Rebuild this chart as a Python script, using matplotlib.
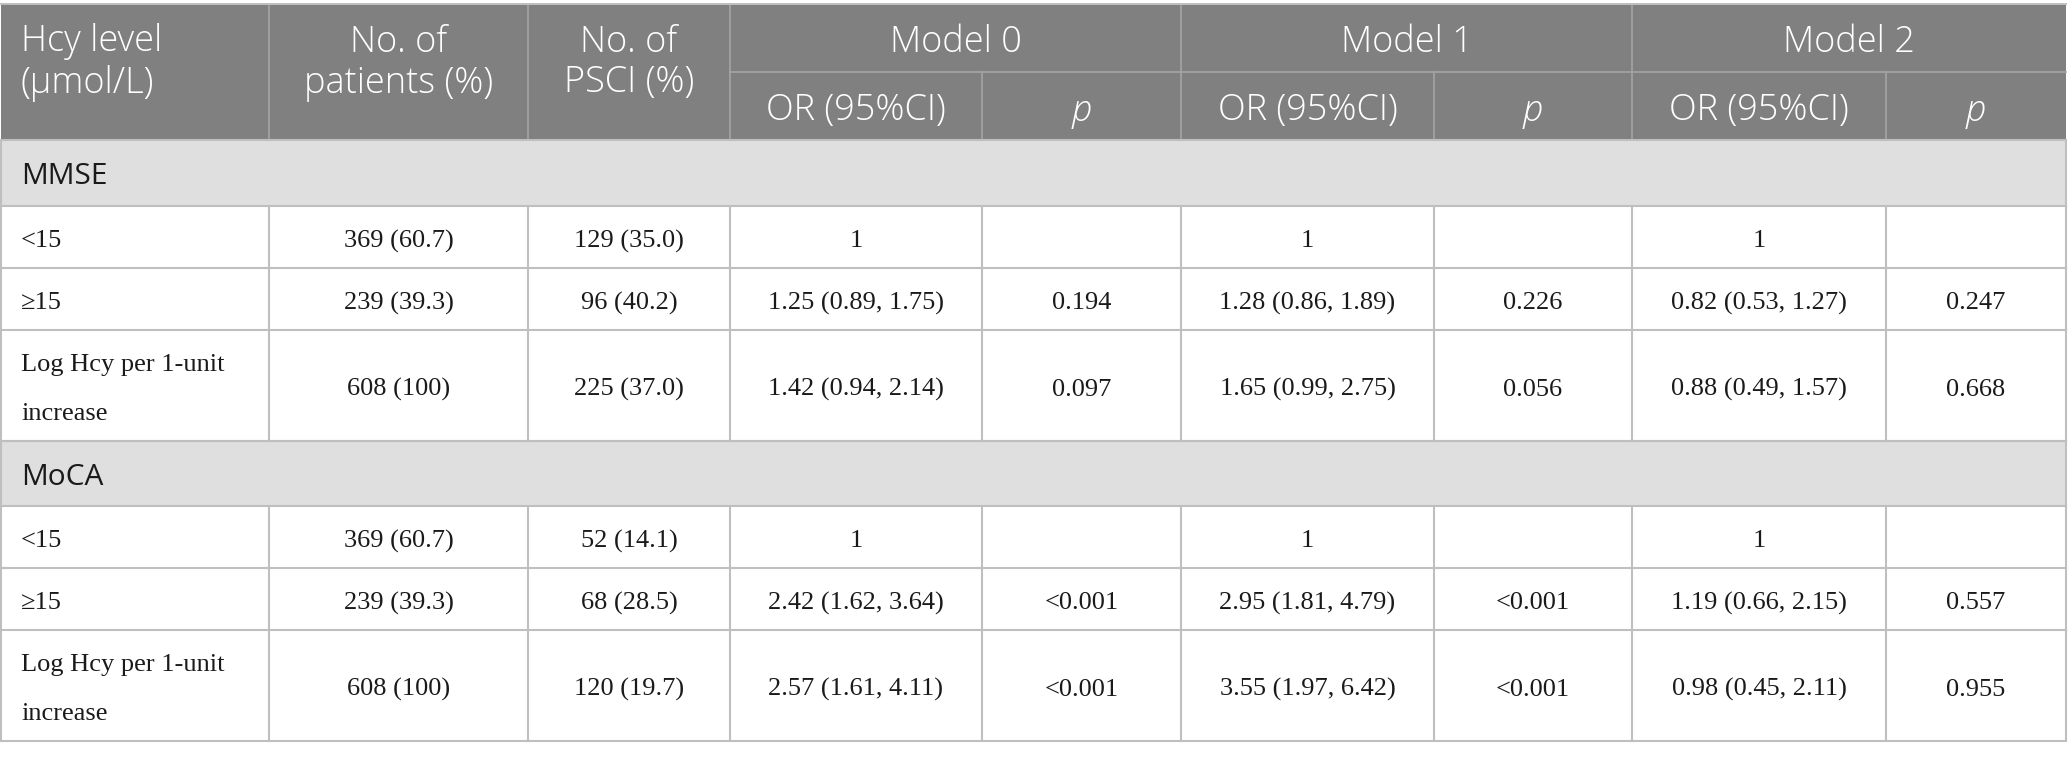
import matplotlib
matplotlib.use("Agg")
import matplotlib.pyplot as plt
from matplotlib.patches import Rectangle

# ---------------- data ----------------
head_cols = ["Hcy level\n(\u00b5mol/L)", "No. of\npatients (%)", "No. of\nPSCI (%)"]
models = ["Model 0", "Model 1", "Model 2"]
sub_heads = ["OR (95%CI)", "p"]
sections = ["MMSE", "MoCA"]
levels = ["<15", "\u226515", "Log Hcy per 1-unit\nincrease"]
patients = ["369 (60.7)", "239 (39.3)", "608 (100)"]

mmse_pscI = ["129 (35.0)", "96 (40.2)", "225 (37.0)"]
mmse_or_m0 = ["1", "1.25 (0.89, 1.75)", "1.42 (0.94, 2.14)"]
mmse_p_m0 = ["", "0.194", "0.097"]
mmse_or_m1 = ["1", "1.28 (0.86, 1.89)", "1.65 (0.99, 2.75)"]
mmse_p_m1 = ["", "0.226", "0.056"]
mmse_or_m2 = ["1", "0.82 (0.53, 1.27)", "0.88 (0.49, 1.57)"]
mmse_p_m2 = ["", "0.247", "0.668"]

moca_pscI = ["52 (14.1)", "68 (28.5)", "120 (19.7)"]
moca_or_m0 = ["1", "2.42 (1.62, 3.64)", "2.57 (1.61, 4.11)"]
moca_p_m0 = ["", "<0.001", "<0.001"]
moca_or_m1 = ["1", "2.95 (1.81, 4.79)", "3.55 (1.97, 6.42)"]
moca_p_m1 = ["", "<0.001", "<0.001"]
moca_or_m2 = ["1", "1.19 (0.66, 2.15)", "0.98 (0.45, 2.11)"]
moca_p_m2 = ["", "0.557", "0.955"]

section_rows = [
    [levels, patients, mmse_pscI, mmse_or_m0, mmse_p_m0, mmse_or_m1, mmse_p_m1, mmse_or_m2, mmse_p_m2],
    [levels, patients, moca_pscI, moca_or_m0, moca_p_m0, moca_or_m1, moca_p_m1, moca_or_m2, moca_p_m2],
]

# ---------------- layout ----------------
W, H = 2068, 760
fig = plt.figure(figsize=(W / 100, H / 100), dpi=100)
ax = fig.add_axes([0, 0, 1, 1])
ax.set_xlim(0, W)
ax.set_ylim(H, 0)
ax.axis("off")

col_x = [1, 269, 528, 730, 982, 1181, 1434, 1632, 1886, 2066]
top, mid, hbot = 4, 72, 140
sec_geo = [
    (140, 206, [268, 330, 441]),
    (441, 506, [568, 630, 741]),
]

HEAD_BG = "#7f807f"
HEAD_LINE = "#a4a5a4"
BAND_BG = "#e0dfe0"
GRID = "#bfbfbf"
TXT = "#1a1a1a"

sans = ["Open Sans", "Lato", "DejaVu Sans"]
serif = ["Liberation Serif", "DejaVu Serif"]
HFS = 26
SFS = 21.5
BFS = 19

# header background
ax.add_patch(Rectangle((col_x[0], top), col_x[-1] - col_x[0], hbot - top,
                       facecolor=HEAD_BG, edgecolor="none", zorder=1))
ax.plot([col_x[3], col_x[-1]], [mid, mid], color=HEAD_LINE, lw=1.2, zorder=2)
for i in [1, 2, 3, 5, 7]:
    ax.plot([col_x[i], col_x[i]], [top, hbot], color=HEAD_LINE, lw=1.2, zorder=2)
for i in [4, 6, 8]:
    ax.plot([col_x[i], col_x[i]], [mid, hbot], color=HEAD_LINE, lw=1.2, zorder=2)
ax.plot([col_x[0], col_x[-1]], [top, top], color=GRID, lw=1.4, zorder=2)

# header texts
line_c = [42, 83]
for ci, label in enumerate(head_cols):
    for li, ln in enumerate(label.split("\n")):
        if ci == 0:
            ax.text(21, line_c[li], ln, ha="left", va="center", color="white",
                    fontsize=HFS, family=sans, weight="light", zorder=3)
        else:
            ax.text((col_x[ci] + col_x[ci + 1]) / 2, line_c[li], ln, ha="center",
                    va="center", color="white", fontsize=HFS, family=sans,
                    weight="light", zorder=3)
for mi, m in enumerate(models):
    x0 = col_x[3 + 2 * mi]
    x1 = col_x[5 + 2 * mi]
    ax.text((x0 + x1) / 2, (top + mid) / 2 + 5, m, ha="center", va="center",
            color="white", fontsize=HFS, family=sans, weight="light", zorder=3)
    for si, s in enumerate(sub_heads):
        xa = col_x[3 + 2 * mi + si]
        xb = col_x[4 + 2 * mi + si]
        ax.text((xa + xb) / 2, (mid + hbot) / 2 + 5, s, ha="center", va="center",
                color="white", fontsize=HFS, family=sans, weight="light",
                style="italic" if s == "p" else "normal", zorder=3)

# body
for sname, (btop, bbot, rbots), cols in zip(sections, sec_geo, section_rows):
    ax.add_patch(Rectangle((col_x[0], btop), col_x[-1] - col_x[0], bbot - btop,
                           facecolor=BAND_BG, edgecolor="none", zorder=1))
    ax.text(21, (btop + bbot) / 2 + 4, sname, ha="left", va="center", color=TXT,
            fontsize=SFS, family=sans, zorder=3)
    ax.plot([col_x[0], col_x[-1]], [btop, btop], color=GRID, lw=1.5, zorder=2)
    ax.plot([col_x[0], col_x[-1]], [bbot, bbot], color=GRID, lw=1.5, zorder=2)
    ax.plot([col_x[0], col_x[0]], [btop, bbot], color=GRID, lw=1.5, zorder=2)
    ax.plot([col_x[-1], col_x[-1]], [btop, bbot], color=GRID, lw=1.5, zorder=2)
    prev = bbot
    for ri, rb in enumerate(rbots):
        yc = (prev + rb) / 2
        ax.plot([col_x[0], col_x[-1]], [rb, rb], color=GRID, lw=1.5, zorder=2)
        for x in col_x:
            ax.plot([x, x], [prev, rb], color=GRID, lw=1.5, zorder=2)
        for ci, col in enumerate(cols):
            txt = col[ri]
            lines = txt.split("\n")
            n = len(lines)
            for li, ln in enumerate(lines):
                y = yc + (li - (n - 1) / 2) * 50 + 4
                if ci == 0:
                    ax.text(21, y, ln, ha="left", va="center", color=TXT,
                            fontsize=BFS, family=serif, zorder=3)
                else:
                    ax.text((col_x[ci] + col_x[ci + 1]) / 2, y, ln, ha="center",
                            va="center", color=TXT, fontsize=BFS, family=serif, zorder=3)
        prev = rb

fig.savefig("out.png", dpi=100, facecolor="white")
